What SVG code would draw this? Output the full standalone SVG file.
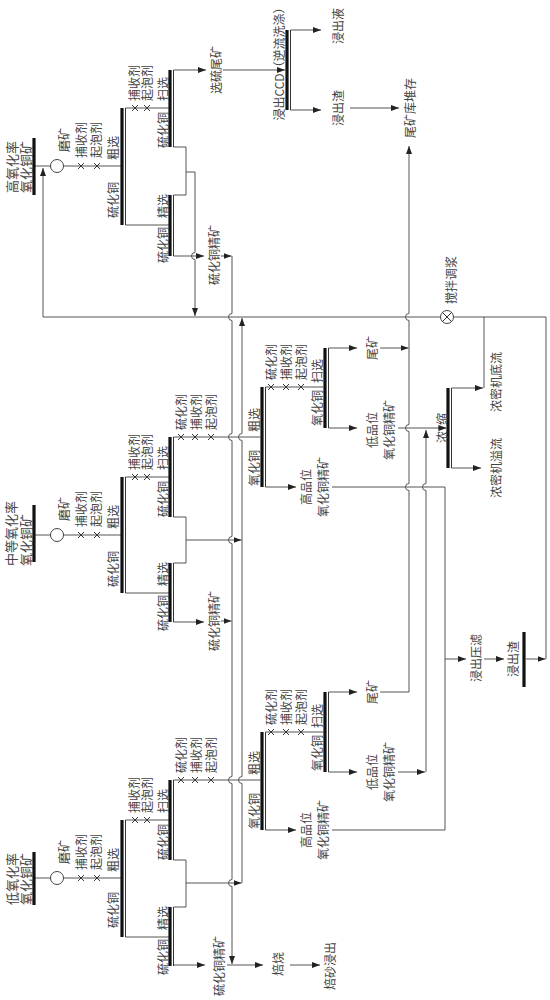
<svg xmlns="http://www.w3.org/2000/svg" width="550" height="1000" viewBox="0 0 550 1000">
<defs>
<marker id="ar" viewBox="0 0 8 6" refX="8" refY="3" markerWidth="8" markerHeight="6" markerUnits="userSpaceOnUse" orient="auto"><path d="M0,0L8,3L0,6z" fill="#222"/></marker>
<path id="xm" d="M-3,-3L3,3M3,-3L-3,3" stroke="#333" stroke-width="1"/>
</defs>
<style>
.l{fill:none;stroke:#555;stroke-width:1}
.a{marker-end:url(#ar)}
.bar{stroke:#111;stroke-width:3.2}
.bt{stroke:#333;stroke-width:1}
.c{fill:#fff;stroke:#444;stroke-width:1}
text{font-family:"Noto Sans CJK SC","Noto Sans",sans-serif;font-size:12px;fill:#444;text-anchor:middle;dominant-baseline:central}
text.f{font-size:13px;text-anchor:start}
</style>
<rect width="550" height="1000" fill="#fff"/>

<g id="connectors">
<path class="l" d="M34,166H121M125.5,108H169M125.5,225H169M173.5,147H186V195H173.5"/>
<path class="l a" d="M186,172H195V252.5A3.5,3.5 0 0 0 195,259.5V316"/>
<path class="l a" d="M173.5,70H206"/>
<path class="l a" d="M223,70H285"/>
<path class="l a" d="M290.5,30H321"/>
<path class="l a" d="M290.5,110H321"/>
<path class="l a" d="M350,108H399"/>
<path class="l a" d="M173.5,256H204"/>
<path class="l a" d="M221,256H231.5"/>
<path class="l a" d="M232,256V313.5A3.5,3.5 0 0 0 232,320.5V433.5A3.5,3.5 0 0 0 232,440.5V536.5A3.5,3.5 0 0 0 232,543.5V776.5A3.5,3.5 0 0 0 232,783.5V879.5A3.5,3.5 0 0 0 232,886.5V964"/>
<path class="l" d="M34,535H121M125.5,477H169M125.5,593H169M173.5,517H186V563H173.5M173.5,437H260.4M265.5,387H323.4"/>
<path class="l a" d="M186,540H241.5"/>
<path class="l a" d="M328.5,348H357"/>
<path class="l a" d="M380,348H408.5"/>
<path class="l a" d="M328.5,428H357"/>
<path class="l a" d="M398,428H446.4"/>
<path class="l a" d="M265.5,487H296"/>
<path class="l" d="M332,487H445V830H332"/>
<path class="l a" d="M173.5,622H204"/>
<path class="l a" d="M221,621H231.5"/>
<path class="l a" d="M451.5,388H483"/>
<path class="l" d="M484,388V317"/>
<path class="l a" d="M451.5,468H481"/>
<path class="l a" d="M426,772V490.5A3.5,3.5 0 0 1 426,483.5V430"/>
<path class="l a" d="M380,692H409V490.5A3.5,3.5 0 0 1 409,483.5V431.5A3.5,3.5 0 0 1 409,424.5V320.5A3.5,3.5 0 0 1 409,313.5V146"/>
<path class="l a" d="M242,883V783.5A3.5,3.5 0 0 1 242,776.5V440.5A3.5,3.5 0 0 1 242,433.5V318"/>
<path class="l a" d="M526,659H545.5"/>
<path class="l a" d="M546,659V317H453.5M440.5,317H43V168"/>
<path class="l a" d="M445,659H466"/>
<path class="l a" d="M484,659H504"/>
<path class="l" d="M34,878H121M125.5,820H169M125.5,937H169M173.5,860H186V907H173.5M173.5,780H260.4M265.5,732H323.4"/>
<path class="l a" d="M186,883H241.5"/>
<path class="l a" d="M328.5,692H357"/>
<path class="l a" d="M328.5,772H357"/>
<path class="l a" d="M398,772H425"/>
<path class="l a" d="M265.5,830H296"/>
<path class="l a" d="M173.5,965H205"/>
<path class="l a" d="M227,965H263"/>
<path class="l a" d="M290,965H320"/>
</g>

<g id="top-feed">
<line class="bar" x1="34" y1="138" x2="34" y2="195"/>
<text class="f" transform="translate(11,193) rotate(-90)">高氧化率</text>
<text class="f" transform="translate(25,193) rotate(-90)">氧化铜矿</text>
</g>
<g id="top-grind"><circle class="c" cx="57" cy="166" r="6.5"/><text transform="translate(63,140) rotate(-90)">磨矿</text></g>
<g id="top-reagents1"><use href="#xm" x="81" y="166"/><use href="#xm" x="97" y="166"/>
<text transform="translate(80,140) rotate(-90)">捕收剂</text><text transform="translate(95,140) rotate(-90)">起泡剂</text></g>
<g id="top-rougher"><line class="bar" x1="122" y1="108" x2="122" y2="225"/><line class="bt" x1="125.5" y1="108" x2="125.5" y2="225"/>
<text transform="translate(112,148) rotate(-90)">粗选</text><text transform="translate(112,200) rotate(-90)">硫化铜</text></g>
<g id="top-reagents2"><use href="#xm" x="135" y="108"/><use href="#xm" x="147" y="108"/>
<text transform="translate(133,83) rotate(-90)">捕收剂</text><text transform="translate(146,83) rotate(-90)">起泡剂</text></g>
<g id="top-scavenger"><line class="bar" x1="170" y1="70" x2="170" y2="147"/><line class="bt" x1="173.5" y1="70" x2="173.5" y2="147"/>
<text transform="translate(162,89) rotate(-90)">扫选</text><text transform="translate(162,130) rotate(-90)">硫化铜</text></g>
<g id="top-cleaner"><line class="bar" x1="170" y1="195" x2="170" y2="256"/><line class="bt" x1="173.5" y1="195" x2="173.5" y2="256"/>
<text transform="translate(162,206) rotate(-90)">精选</text><text transform="translate(162,245) rotate(-90)">硫化铜</text></g>
<g id="top-tail"><text transform="translate(215,70) rotate(-90)">选硫尾矿</text></g>
<g id="top-conc"><text transform="translate(213,255) rotate(-90)">硫化铜精矿</text></g>
<g id="ccd"><line class="bar" x1="287" y1="30" x2="287" y2="110"/><line class="bt" x1="290.5" y1="30" x2="290.5" y2="110"/>
<text transform="translate(278,61) rotate(-90)">浸出CCD（逆流洗涤）</text></g>
<g id="ccd-liquor"><text transform="translate(337,26) rotate(-90)">浸出液</text></g>
<g id="ccd-residue"><text transform="translate(337,108) rotate(-90)">浸出渣</text></g>
<g id="tailings-dam"><text transform="translate(409,108) rotate(-90)">尾矿库堆存</text></g>
<g id="stir"><circle class="c" cx="447" cy="317" r="6.5"/><path d="M442.4,312.4L451.6,321.6M451.6,312.4L442.4,321.6" stroke="#333" stroke-width="1"/>
<text transform="translate(450,280) rotate(-90)">搅拌调浆</text></g>

<g id="mid-feed">
<line class="bar" x1="34" y1="505" x2="34" y2="562"/>
<text class="f" transform="translate(10,566) rotate(-90)">中等氧化率</text>
<text class="f" transform="translate(25,566) rotate(-90)">氧化铜矿</text>
</g>
<g id="mid-grind"><circle class="c" cx="57" cy="535" r="6.5"/><text transform="translate(63,509) rotate(-90)">磨矿</text></g>
<g id="mid-reagents1"><use href="#xm" x="81" y="535"/><use href="#xm" x="97" y="535"/>
<text transform="translate(80,509) rotate(-90)">捕收剂</text><text transform="translate(95,509) rotate(-90)">起泡剂</text></g>
<g id="mid-rougher"><line class="bar" x1="122" y1="477" x2="122" y2="593"/><line class="bt" x1="125.5" y1="477" x2="125.5" y2="593"/>
<text transform="translate(112,517) rotate(-90)">粗选</text><text transform="translate(112,569) rotate(-90)">硫化铜</text></g>
<g id="mid-reagents2"><use href="#xm" x="135" y="477"/><use href="#xm" x="147" y="477"/>
<text transform="translate(133,452) rotate(-90)">捕收剂</text><text transform="translate(146,452) rotate(-90)">起泡剂</text></g>
<g id="mid-scavenger"><line class="bar" x1="170" y1="437" x2="170" y2="517"/><line class="bt" x1="173.5" y1="437" x2="173.5" y2="517"/>
<text transform="translate(162,458) rotate(-90)">扫选</text><text transform="translate(162,499) rotate(-90)">硫化铜</text></g>
<g id="mid-cleaner"><line class="bar" x1="170" y1="563" x2="170" y2="622"/><line class="bt" x1="173.5" y1="563" x2="173.5" y2="622"/>
<text transform="translate(162,574) rotate(-90)">精选</text><text transform="translate(162,613) rotate(-90)">硫化铜</text></g>
<g id="mid-conc"><text transform="translate(213,621) rotate(-90)">硫化铜精矿</text></g>
<g id="mid-reagents3"><use href="#xm" x="181" y="437"/><use href="#xm" x="195" y="437"/><use href="#xm" x="211" y="437"/>
<text transform="translate(180,412) rotate(-90)">硫化剂</text><text transform="translate(195,412) rotate(-90)">捕收剂</text><text transform="translate(210,412) rotate(-90)">起泡剂</text></g>
<g id="mid-ox-rougher"><line class="bar" x1="262" y1="387" x2="262" y2="487"/><line class="bt" x1="265.5" y1="387" x2="265.5" y2="487"/>
<text transform="translate(253,420) rotate(-90)">粗选</text><text transform="translate(253,468) rotate(-90)">氧化铜</text></g>
<g id="mid-reagents4"><use href="#xm" x="271" y="387"/><use href="#xm" x="286" y="387"/><use href="#xm" x="301" y="387"/>
<text transform="translate(270,362) rotate(-90)">硫化剂</text><text transform="translate(285,362) rotate(-90)">捕收剂</text><text transform="translate(300,362) rotate(-90)">起泡剂</text></g>
<g id="mid-ox-scavenger"><line class="bar" x1="325" y1="348" x2="325" y2="428"/><line class="bt" x1="328.5" y1="348" x2="328.5" y2="428"/>
<text transform="translate(316,371) rotate(-90)">扫选</text><text transform="translate(316,408) rotate(-90)">氧化铜</text></g>
<g id="mid-tail"><text transform="translate(371,348) rotate(-90)">尾矿</text></g>
<g id="mid-low"><text transform="translate(371,430) rotate(-90)">低品位</text><text transform="translate(388,430) rotate(-90)">氧化铜精矿</text></g>
<g id="mid-high"><text transform="translate(305,487) rotate(-90)">高品位</text><text transform="translate(322,487) rotate(-90)">氧化铜精矿</text></g>
<g id="thickener"><line class="bar" x1="448" y1="388" x2="448" y2="468"/><line class="bt" x1="451.5" y1="388" x2="451.5" y2="468"/>
<text transform="translate(441,419) rotate(-90)">缩</text><text transform="translate(441,437) rotate(-90)">浓</text></g>
<g id="underflow"><text transform="translate(495,382) rotate(-90)">浓密机底流</text></g>
<g id="overflow"><text transform="translate(495,468) rotate(-90)">浓密机溢流</text></g>
<g id="filter"><text transform="translate(475,658) rotate(-90)">浸出压滤</text></g>
<g id="residue"><line class="bar" x1="524" y1="632" x2="524" y2="687"/><text transform="translate(512,659) rotate(-90)">浸出渣</text></g>

<g id="bot-feed">
<line class="bar" x1="34" y1="852" x2="34" y2="905"/>
<text class="f" transform="translate(11,905) rotate(-90)">低氧化率</text>
<text class="f" transform="translate(25,905) rotate(-90)">氧化铜矿</text>
</g>
<g id="bot-grind"><circle class="c" cx="57" cy="878" r="6.5"/><text transform="translate(63,852) rotate(-90)">磨矿</text></g>
<g id="bot-reagents1"><use href="#xm" x="81" y="878"/><use href="#xm" x="97" y="878"/>
<text transform="translate(80,852) rotate(-90)">捕收剂</text><text transform="translate(95,852) rotate(-90)">起泡剂</text></g>
<g id="bot-rougher"><line class="bar" x1="122" y1="820" x2="122" y2="937"/><line class="bt" x1="125.5" y1="820" x2="125.5" y2="937"/>
<text transform="translate(112,860) rotate(-90)">粗选</text><text transform="translate(112,910) rotate(-90)">硫化铜</text></g>
<g id="bot-reagents2"><use href="#xm" x="135" y="820"/><use href="#xm" x="147" y="820"/>
<text transform="translate(133,795) rotate(-90)">捕收剂</text><text transform="translate(146,795) rotate(-90)">起泡剂</text></g>
<g id="bot-scavenger"><line class="bar" x1="170" y1="780" x2="170" y2="860"/><line class="bt" x1="173.5" y1="780" x2="173.5" y2="860"/>
<text transform="translate(162,801) rotate(-90)">扫选</text><text transform="translate(162,842) rotate(-90)">硫化铜</text></g>
<g id="bot-cleaner"><line class="bar" x1="170" y1="907" x2="170" y2="966"/><line class="bt" x1="173.5" y1="907" x2="173.5" y2="966"/>
<text transform="translate(162,918) rotate(-90)">精选</text><text transform="translate(162,957) rotate(-90)">硫化铜</text></g>
<g id="bot-reagents3"><use href="#xm" x="181" y="780"/><use href="#xm" x="195" y="780"/><use href="#xm" x="211" y="780"/>
<text transform="translate(180,755) rotate(-90)">硫化剂</text><text transform="translate(195,755) rotate(-90)">捕收剂</text><text transform="translate(210,755) rotate(-90)">起泡剂</text></g>
<g id="bot-ox-rougher"><line class="bar" x1="262" y1="732" x2="262" y2="830"/><line class="bt" x1="265.5" y1="732" x2="265.5" y2="830"/>
<text transform="translate(253,763) rotate(-90)">粗选</text><text transform="translate(253,811) rotate(-90)">氧化铜</text></g>
<g id="bot-reagents4"><use href="#xm" x="271" y="732"/><use href="#xm" x="286" y="732"/><use href="#xm" x="301" y="732"/>
<text transform="translate(270,707) rotate(-90)">硫化剂</text><text transform="translate(285,707) rotate(-90)">捕收剂</text><text transform="translate(300,707) rotate(-90)">起泡剂</text></g>
<g id="bot-ox-scavenger"><line class="bar" x1="325" y1="692" x2="325" y2="772"/><line class="bt" x1="328.5" y1="692" x2="328.5" y2="772"/>
<text transform="translate(316,716) rotate(-90)">扫选</text><text transform="translate(316,753) rotate(-90)">氧化铜</text></g>
<g id="bot-tail"><text transform="translate(371,692) rotate(-90)">尾矿</text></g>
<g id="bot-low"><text transform="translate(371,772) rotate(-90)">低品位</text><text transform="translate(388,772) rotate(-90)">氧化铜精矿</text></g>
<g id="bot-high"><text transform="translate(305,830) rotate(-90)">高品位</text><text transform="translate(322,830) rotate(-90)">氧化铜精矿</text></g>
<g id="bot-conc"><text transform="translate(218,966) rotate(-90)">硫化铜精矿</text></g>
<g id="roast"><text transform="translate(277,964) rotate(-90)">焙烧</text></g>
<g id="calcine-leach"><text transform="translate(329,966) rotate(-90)">焙砂浸出</text></g>
</svg>
